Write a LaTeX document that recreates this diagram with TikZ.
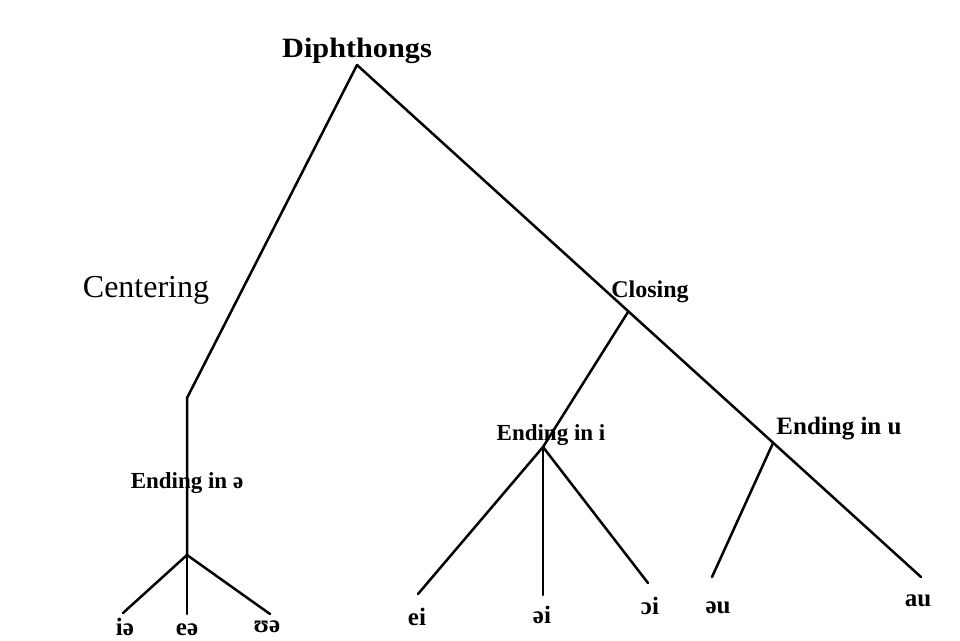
\documentclass[tikz,border=0pt]{standalone}
\usepackage{fontspec}
\setmainfont{Liberation Serif}
\begin{document}
\begin{tikzpicture}[x=1pt,y=-1pt,
  branch/.style={line width=2.5pt,line cap=round,line join=miter},
  lbl/.style={anchor=base,inner sep=0pt,font=\bfseries\fontsize{23}{23}\selectfont},
  leaf/.style={anchor=base,inner sep=0pt,font=\bfseries\fontsize{25}{25}\selectfont}]
\useasboundingbox[fill=white] (0,0) rectangle (960,640);

% headings
\node[anchor=base,inner sep=0pt,font=\bfseries\fontsize{28}{28}\selectfont,xscale=1.08] (root) at (357,57) {Diphthongs};
\node[anchor=base,inner sep=0pt,font=\fontsize{32}{32}\selectfont] (cent) at (146,297) {Centering};
\node[lbl,font=\bfseries\fontsize{24}{24}\selectfont] (clos) at (650,297) {Closing};
\node[lbl] (endi) at (551,440) {Ending in i};
\node[lbl,font=\bfseries\fontsize{25}{25}\selectfont] (endu) at (839,434) {Ending in u};
\node[lbl] (endschwa) at (187,488) {Ending in ə};

% junctions and free ends
\coordinate (apex) at (357,65);
\coordinate (bend) at (187,398);
\coordinate (jc) at (187,555);
\coordinate (jclos) at (628,312);
\coordinate (ji) at (543,447);
\coordinate (ju) at (773,443);
\coordinate (e1) at (123,613);
\coordinate (e2) at (187,614);
\coordinate (e3) at (270,614);
\coordinate (e4) at (418,594);
\coordinate (e5) at (543,595);
\coordinate (e6) at (648,583);
\coordinate (e7) at (712,577);
\coordinate (e8) at (921,577);

% branches
\draw[branch] (apex) -- (bend) -- (jc);
\draw[branch] (apex) -- (e8);
\draw[branch] (jc) -- (e1);
\draw[branch] (jc) -- (e2);
\draw[branch] (jc) -- (e3);
\draw[branch] (jclos) -- (ji);
\draw[branch] (ji) -- (e4);
\draw[branch] (ji) -- (e5);
\draw[branch] (ji) -- (e6);
\draw[branch] (ju) -- (e7);

% leaves
\node[leaf] (l1) at (125,635) {iə};
\node[leaf] (l2) at (187,635) {eə};
\node[leaf] (l3) at (267,632) {ʊə};
\node[leaf] (l4) at (417,625) {ei};
\node[leaf] (l5) at (542,623) {əi};
\node[leaf] (l6) at (650,614) {ɔi};
\node[leaf] (l7) at (718,613) {əu};
\node[leaf] (l8) at (918,606) {au};
\end{tikzpicture}
\end{document}
